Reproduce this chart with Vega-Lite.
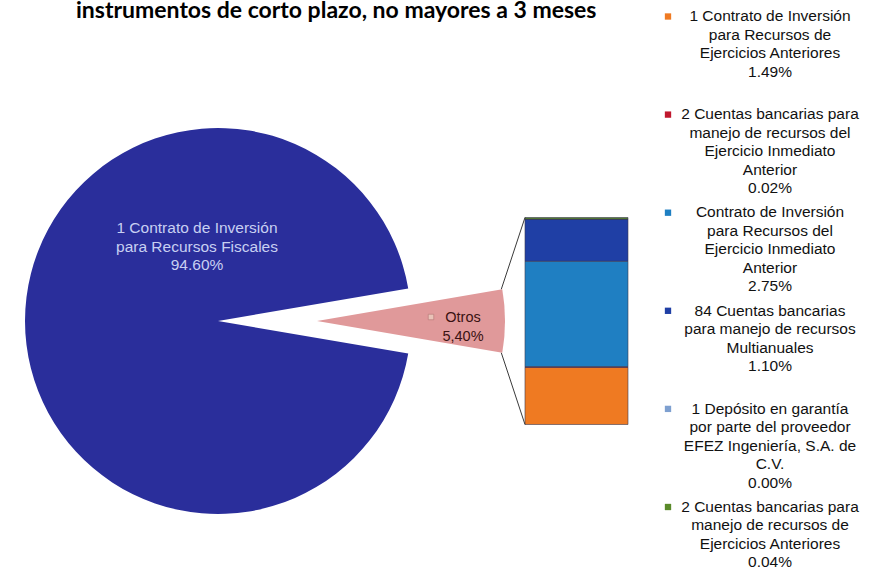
{
  "$schema": "https://vega.github.io/schema/vega-lite/v6.json",
  "padding": 0,
  "background": "white",
  "spacing": 0,
  "config": {"view": {"stroke": null}, "font": "Liberation Sans"},
  "datasets": {
    "torta": [
      {"grupo": "Otros", "valor": 5.40, "rotulo": "Otros\n5,40%"},
      {"grupo": "1 Contrato de Inversión para Recursos Fiscales", "valor": 94.60, "rotulo": "1 Contrato de Inversión\npara Recursos Fiscales\n94.60%"}
    ],
    "otros": [
      {"orden": 1, "concepto": "1 Contrato de Inversión para Recursos de Ejercicios Anteriores", "valor": 1.49, "rotulo": "1 Contrato de Inversión\npara Recursos de\nEjercicios Anteriores\n1.49%"},
      {"orden": 2, "concepto": "2 Cuentas bancarias para manejo de recursos del Ejercicio Inmediato Anterior", "valor": 0.02, "rotulo": "2 Cuentas bancarias para\nmanejo de recursos del\nEjercicio Inmediato\nAnterior\n0.02%"},
      {"orden": 3, "concepto": "Contrato de Inversión para Recursos del Ejercicio Inmediato Anterior", "valor": 2.75, "rotulo": "Contrato de Inversión\npara Recursos del\nEjercicio Inmediato\nAnterior\n2.75%"},
      {"orden": 4, "concepto": "84 Cuentas bancarias para manejo de recursos Multianuales", "valor": 1.10, "rotulo": "84 Cuentas bancarias\npara manejo de recursos\nMultianuales\n1.10%"},
      {"orden": 5, "concepto": "1 Depósito en garantía por parte del proveedor EFEZ Ingeniería, S.A. de C.V.", "valor": 0.00, "rotulo": "1 Depósito en garantía\npor parte del proveedor\nEFEZ Ingeniería, S.A. de\nC.V.\n0.00%"},
      {"orden": 6, "concepto": "2 Cuentas bancarias para manejo de recursos de Ejercicios Anteriores", "valor": 0.04, "rotulo": "2 Cuentas bancarias para\nmanejo de recursos de\nEjercicios Anteriores\n0.04%"}
    ]
  },
  "hconcat": [
    {
      "title": {"text": "instrumentos de corto plazo, no mayores a 3 meses", "anchor": "start", "frame": "group", "dx": 76, "font": "Lato", "fontSize": 23, "fontWeight": "bold", "color": "#000000", "offset": 0},
      "width": 640,
      "height": 596,
      "layer": [
        {
          "data": {"name": "torta"},
          "transform": [{"stack": "valor", "groupby": [], "as": ["v0", "v1"]}, {"filter": "datum.grupo != 'Otros'"}],
          "mark": {"type": "arc", "radius": 193, "color": "#2a2e9b"},
          "encoding": {
            "x": {"datum": "Recursos Fiscales", "type": "nominal", "scale": {"type": "band", "domain": ["Recursos Fiscales", "Otros"], "paddingInner": 0.71269, "paddingOuter": 0.24895, "align": 0.93277, "round": false}, "axis": null},
            "theta": {"field": "v0", "type": "quantitative", "scale": {"domain": [0, 100], "range": [1.40115, 7.68434]}},
            "theta2": {"field": "v1"}
          }
        },
        {
          "data": {"name": "torta"},
          "transform": [{"stack": "valor", "groupby": [], "as": ["v0", "v1"]}, {"filter": "datum.grupo == 'Otros'"}],
          "mark": {"type": "arc", "radius": 188, "xOffset": 99, "color": "#e0999a"},
          "encoding": {
            "x": {"datum": "Recursos Fiscales", "type": "nominal"},
            "theta": {"field": "v0", "type": "quantitative"},
            "theta2": {"field": "v1"}
          }
        },
        {
          "data": {"name": "torta"},
          "transform": [{"filter": "datum.grupo != 'Otros'"}],
          "mark": {"type": "text", "lineBreak": "\n", "fontSize": 15.5, "lineHeight": 18.5, "color": "#c8d0f2", "align": "center", "baseline": "middle", "dx": -21, "dy": -93},
          "encoding": {"x": {"datum": "Recursos Fiscales", "type": "nominal"}, "text": {"field": "rotulo"}}
        },
        {
          "data": {"name": "torta"},
          "transform": [{"filter": "datum.grupo == 'Otros'"}],
          "mark": {"type": "text", "lineBreak": "\n", "fontSize": 14.5, "lineHeight": 19, "color": "#3a1212", "align": "center", "baseline": "middle", "dx": 245, "dy": -3},
          "encoding": {"x": {"datum": "Recursos Fiscales", "type": "nominal"}, "text": {"field": "rotulo"}}
        },
        {
          "data": {"name": "torta"},
          "transform": [{"filter": "datum.grupo == 'Otros'"}],
          "mark": {"type": "point", "shape": "square", "filled": true, "size": 30, "opacity": 1, "color": "#e9c3b8", "stroke": "#a86a6a", "strokeWidth": 0.5, "xOffset": 213, "yOffset": -4},
          "encoding": {"x": {"datum": "Recursos Fiscales", "type": "nominal"}}
        },
        {
          "data": {"name": "otros"},
          "mark": {"type": "bar", "stroke": "#3a3a50", "strokeWidth": 0.6},
          "encoding": {
            "x": {"datum": "Otros", "type": "nominal"},
            "y": {"field": "valor", "type": "quantitative", "stack": "zero", "scale": {"domain": [-5.075, 10.475], "nice": false, "zero": false}, "axis": null},
            "color": {"field": "concepto", "type": "nominal", "scale": {"domain": ["1 Contrato de Inversión para Recursos de Ejercicios Anteriores", "2 Cuentas bancarias para manejo de recursos del Ejercicio Inmediato Anterior", "Contrato de Inversión para Recursos del Ejercicio Inmediato Anterior", "84 Cuentas bancarias para manejo de recursos Multianuales", "1 Depósito en garantía por parte del proveedor EFEZ Ingeniería, S.A. de C.V.", "2 Cuentas bancarias para manejo de recursos de Ejercicios Anteriores"], "range": ["#ef7a22", "#c0182e", "#1f7fc2", "#1f3fa5", "#7ea0d0", "#5a8a2a"]}, "legend": null},
            "order": {"field": "orden", "type": "quantitative"}
          }
        },
        {
          "data": {"name": "otros"},
          "transform": [{"aggregate": [{"op": "sum", "field": "valor", "as": "total"}]}],
          "mark": {"type": "rule", "color": "#3a3a3a", "strokeWidth": 1},
          "encoding": {
            "x": {"datum": "Otros", "type": "nominal", "bandPosition": 0},
            "x2": {"datum": "Otros", "bandPosition": -0.23},
            "y": {"field": "total", "type": "quantitative"},
            "y2": {"datum": 3.53}
          }
        },
        {
          "data": {"name": "otros"},
          "transform": [{"aggregate": [{"op": "sum", "field": "valor", "as": "total"}]}],
          "mark": {"type": "rule", "color": "#3a3a3a", "strokeWidth": 1},
          "encoding": {
            "x": {"datum": "Otros", "type": "nominal", "bandPosition": 0},
            "x2": {"datum": "Otros", "bandPosition": -0.23},
            "y": {"datum": 0, "type": "quantitative"},
            "y2": {"datum": 1.87}
          }
        }
      ]
    },
    {
      "width": 260,
      "height": 490.5,
      "data": {"name": "otros"},
      "layer": [
        {
          "mark": {"type": "text", "lineBreak": "\n", "fontSize": 15.5, "lineHeight": 18.5, "align": "center", "baseline": "line-top", "dy": -15.75, "color": "#111111"},
          "encoding": {
            "y": {"field": "orden", "type": "ordinal", "scale": {"type": "point", "padding": 0}, "axis": null},
            "text": {"field": "rotulo"}
          }
        },
        {
          "mark": {"type": "point", "shape": "square", "filled": true, "size": 40, "opacity": 1, "xOffset": -102, "yOffset": -6.5},
          "encoding": {
            "y": {"field": "orden", "type": "ordinal", "scale": {"type": "point", "padding": 0}, "axis": null},
            "color": {"field": "concepto", "type": "nominal", "scale": {"domain": ["1 Contrato de Inversión para Recursos de Ejercicios Anteriores", "2 Cuentas bancarias para manejo de recursos del Ejercicio Inmediato Anterior", "Contrato de Inversión para Recursos del Ejercicio Inmediato Anterior", "84 Cuentas bancarias para manejo de recursos Multianuales", "1 Depósito en garantía por parte del proveedor EFEZ Ingeniería, S.A. de C.V.", "2 Cuentas bancarias para manejo de recursos de Ejercicios Anteriores"], "range": ["#ef7a22", "#c0182e", "#1f7fc2", "#1f3fa5", "#7ea0d0", "#5a8a2a"]}, "legend": null}
          }
        }
      ]
    }
  ]
}
